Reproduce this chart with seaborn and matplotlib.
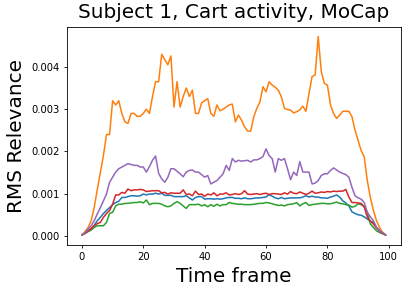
import numpy as np
import pandas as pd
import seaborn as sns
import matplotlib
matplotlib.use("Agg")
import matplotlib.pyplot as plt

# RMS relevance per time frame (x 1e-3), five channels
frames = list(range(100))

ch_blue = [0.02, 0.06, 0.12, 0.17, 0.25, 0.36, 0.44, 0.53, 0.60, 0.67,
           0.74, 0.79, 0.82, 0.91, 0.91, 0.93, 0.95, 0.95, 0.94, 0.95,
           0.99, 0.97, 0.99, 0.99, 1.01, 0.99, 1.01, 0.96, 0.96, 0.96,
           0.93, 0.93, 0.93, 0.93, 0.95, 0.90, 0.85, 0.91, 0.93, 0.93,
           0.87, 0.88, 0.88, 0.87, 0.88, 0.87, 0.88, 0.90, 0.91, 0.91,
           0.89, 0.89, 0.88, 0.90, 0.88, 0.88, 0.89, 0.90, 0.90, 0.91,
           0.92, 0.98, 0.94, 0.90, 0.88, 0.91, 0.88, 0.89, 0.90, 0.90,
           0.90, 0.90, 0.92, 0.95, 0.92, 0.94, 0.92, 0.92, 0.90, 0.90,
           0.89, 0.92, 0.94, 0.97, 0.92, 0.83, 0.78, 0.71, 0.57, 0.53,
           0.50, 0.49, 0.45, 0.40, 0.35, 0.32, 0.20, 0.13, 0.08, 0.02]

ch_orange = [0.02, 0.10, 0.20, 0.36, 0.67, 1.10, 1.50, 1.90, 2.40, 2.40,
             3.20, 3.10, 3.20, 2.90, 2.70, 2.66, 2.90, 2.90, 2.83, 2.83,
             2.90, 3.00, 2.90, 3.30, 3.65, 3.65, 4.30, 4.17, 4.05, 4.26,
             3.05, 3.65, 3.05, 3.30, 3.50, 3.30, 3.45, 2.90, 2.90, 3.15,
             3.20, 3.25, 2.90, 2.83, 3.10, 2.96, 3.00, 3.05, 3.10, 3.12,
             2.70, 2.86, 2.74, 2.58, 2.48, 2.48, 2.82, 3.02, 3.17, 3.53,
             3.41, 3.65, 3.57, 3.52, 3.45, 3.29, 3.02, 2.99, 2.98, 2.91,
             2.94, 2.98, 3.07, 2.95, 3.37, 3.77, 3.81, 4.72, 3.89, 3.61,
             3.57, 3.10, 2.90, 2.78, 2.86, 2.95, 2.95, 2.95, 2.82, 2.50,
             2.26, 2.02, 1.87, 1.31, 0.91, 0.60, 0.36, 0.20, 0.08, 0.02]

ch_green = [0.02, 0.06, 0.10, 0.14, 0.20, 0.24, 0.24, 0.24, 0.32, 0.53,
            0.56, 0.71, 0.75, 0.75, 0.77, 0.77, 0.78, 0.79, 0.79, 0.81,
            0.78, 0.85, 0.74, 0.77, 0.77, 0.77, 0.75, 0.71, 0.69, 0.71,
            0.77, 0.81, 0.77, 0.71, 0.65, 0.74, 0.74, 0.74, 0.75, 0.71,
            0.74, 0.69, 0.74, 0.70, 0.75, 0.71, 0.74, 0.74, 0.79, 0.77,
            0.76, 0.75, 0.75, 0.74, 0.74, 0.74, 0.75, 0.76, 0.77, 0.77,
            0.79, 0.78, 0.76, 0.74, 0.72, 0.73, 0.71, 0.74, 0.75, 0.76,
            0.79, 0.71, 0.76, 0.79, 0.72, 0.74, 0.75, 0.76, 0.77, 0.77,
            0.76, 0.76, 0.78, 0.80, 0.77, 0.76, 0.74, 0.73, 0.68, 0.70,
            0.76, 0.74, 0.70, 0.55, 0.28, 0.20, 0.12, 0.08, 0.05, 0.02]

ch_red = [0.02, 0.06, 0.12, 0.17, 0.24, 0.29, 0.32, 0.44, 0.53, 0.60,
          0.75, 0.97, 0.97, 1.03, 1.01, 1.11, 1.07, 1.09, 1.09, 1.10,
          1.09, 1.05, 1.06, 1.07, 1.07, 1.07, 1.02, 1.03, 0.99, 1.02,
          1.01, 1.01, 1.01, 1.09, 0.98, 0.99, 0.95, 1.06, 0.98, 0.99,
          0.94, 0.99, 0.97, 1.02, 0.95, 0.99, 0.99, 1.02, 0.97, 0.98,
          1.00, 0.98, 1.00, 1.07, 0.99, 0.98, 0.99, 1.00, 0.98, 1.00,
          1.01, 0.98, 1.00, 1.00, 0.99, 0.98, 1.02, 0.99, 1.05, 1.01,
          1.00, 1.04, 1.01, 0.98, 1.01, 1.06, 1.01, 1.02, 1.04, 1.03,
          1.05, 1.04, 1.06, 1.05, 1.06, 1.06, 1.10, 0.92, 0.79, 0.79,
          0.78, 0.77, 0.68, 0.45, 0.35, 0.28, 0.18, 0.11, 0.06, 0.02]

ch_purple = [0.02, 0.08, 0.16, 0.24, 0.36, 0.52, 0.67, 0.83, 0.99, 1.27,
             1.39, 1.51, 1.59, 1.63, 1.67, 1.71, 1.69, 1.67, 1.67, 1.63,
             1.63, 1.51, 1.64, 1.79, 1.89, 1.48, 1.35, 1.27, 1.39, 1.59,
             1.59, 1.53, 1.47, 1.40, 1.51, 1.55, 1.56, 1.51, 1.51, 1.45,
             1.39, 1.43, 1.23, 1.27, 1.31, 1.39, 1.47, 1.67, 1.55, 1.83,
             1.75, 1.79, 1.77, 1.78, 1.79, 1.75, 1.80, 1.80, 1.83, 1.88,
             2.06, 1.90, 1.83, 1.51, 1.83, 1.79, 1.83, 1.59, 1.33, 1.51,
             1.43, 1.76, 1.51, 1.51, 1.51, 1.23, 1.25, 1.31, 1.43, 1.47,
             1.47, 1.55, 1.61, 1.56, 1.51, 1.48, 1.45, 1.39, 1.15, 0.95,
             0.90, 0.87, 0.79, 0.56, 0.45, 0.36, 0.20, 0.12, 0.08, 0.02]

channels = ["c0", "c1", "c2", "c3", "c4"]
series = [ch_blue, ch_orange, ch_green, ch_red, ch_purple]

rows = []
for name, vals in zip(channels, series):
    for t, v in zip(frames, vals):
        rows.append((t, v * 1e-3, name))
df = pd.DataFrame(rows, columns=["frame", "rms", "channel"])

sns.set_style("white")
plt.rcParams["font.family"] = ["DejaVu Sans"]
plt.rcParams["text.color"] = "black"
plt.rcParams["axes.labelcolor"] = "black"
plt.rcParams["xtick.color"] = "black"
plt.rcParams["ytick.color"] = "black"

fig, ax = plt.subplots(figsize=(4.07, 2.92), dpi=100)
fig.subplots_adjust(left=0.164, right=0.985, top=0.909, bottom=0.161)

sns.lineplot(data=df, x="frame", y="rms", hue="channel",
             palette=sns.color_palette("tab10", 5), linewidth=1.1,
             legend=False, ax=ax)

ax.set_title("Subject 1, Cart activity, MoCap", fontsize=14.4)
ax.set_xlabel("Time frame", fontsize=14.4)
ax.set_ylabel("RMS Relevance", fontsize=14.4)
ax.set_xticks([0, 20, 40, 60, 80, 100])
ax.set_yticks([0, 0.001, 0.002, 0.003, 0.004])
ax.set_yticklabels(["0.000", "0.001", "0.002", "0.003", "0.004"])
ax.tick_params(labelsize=7.2, length=2.5, width=0.6, pad=2.5,
               bottom=True, left=True)
for s in ax.spines.values():
    s.set_color("black")
    s.set_linewidth(0.6)

fig.savefig("out.png", dpi=100)
